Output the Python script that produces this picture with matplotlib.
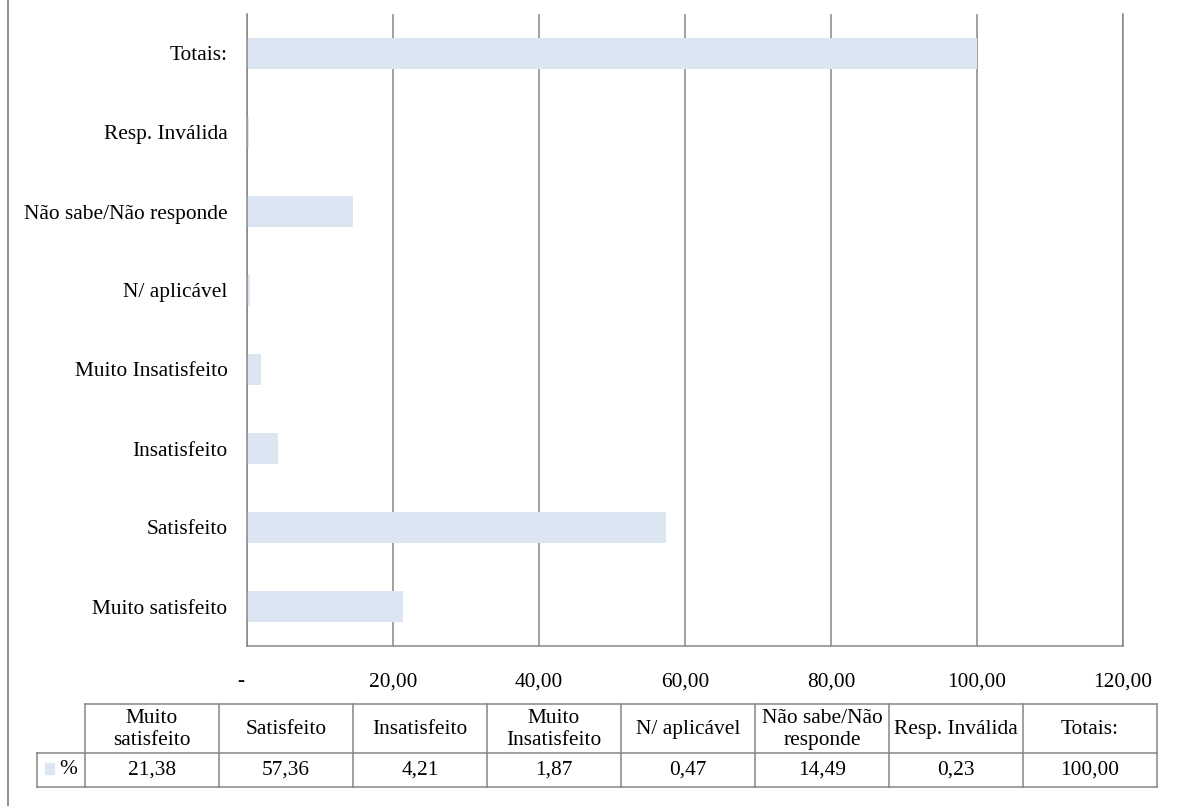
import matplotlib
matplotlib.use("Agg")
import matplotlib.pyplot as plt
from matplotlib.lines import Line2D
from matplotlib.patches import Rectangle
from matplotlib.transforms import ScaledTranslation

# Survey response categories and their percentages
categories = ["Muito satisfeito", "Satisfeito", "Insatisfeito", "Muito Insatisfeito",
              "N/ aplicável", "Não sabe/Não responde", "Resp. Inválida", "Totais:"]
table_headers = ["Muito\nsatisfeito", "Satisfeito", "Insatisfeito", "Muito\nInsatisfeito",
                 "N/ aplicável", "Não sabe/Não\nresponde", "Resp. Inválida", "Totais:"]
values = [21.38, 57.36, 4.21, 1.87, 0.47, 14.49, 0.23, 100.00]
series_name = "%"
x_ticks = [0, 20, 40, 60, 80, 100, 120]
x_ticklabels = ["-", "20,00", "40,00", "60,00", "80,00", "100,00", "120,00"]

W, H = 1179, 807
DPI = 100
BAR_COLOR = "#DCE6F2"
LINE_COLOR = "#868686"
FONT = "Liberation Serif"
FS = 15.4

plt.rcParams["font.family"] = [FONT, "DejaVu Serif"]

fig = plt.figure(figsize=(W / DPI, H / DPI), dpi=DPI)


def fx(px):
    return px / W


def fy(py):
    return 1 - py / H


# Main bar chart area
ax_left, ax_right, ax_top, ax_bottom = 247, 1123, 14, 646
ax = fig.add_axes([fx(ax_left), fy(ax_bottom), fx(ax_right - ax_left), fy(ax_top) - fy(ax_bottom)])

ypos = list(range(len(categories)))
ax.barh(ypos, values, height=0.4, color=BAR_COLOR, zorder=1)
ax.set_xlim(0, 120)
ax.set_ylim(-0.5, len(categories) - 0.5)

ax.set_xticks(x_ticks)
ax.set_xticklabels(x_ticklabels)
ax.set_yticks(ypos)
ax.set_yticklabels(categories)
ax.tick_params(axis="both", length=0, labelsize=FS, colors="black")
ax.tick_params(axis="x", pad=19)
ax.tick_params(axis="y", pad=14)

# The zero label ("-") sits a little left of the axis line
zero_label = ax.xaxis.get_major_ticks()[0].label1
zero_label.set_transform(zero_label.get_transform()
                         + ScaledTranslation(-6 / DPI, 0, fig.dpi_scale_trans))

ax.grid(axis="x", color=LINE_COLOR, linewidth=1.1, zorder=0)
ax.set_axisbelow(True)
ax.spines["top"].set_visible(False)
for side in ["left", "bottom", "right"]:
    ax.spines[side].set_color(LINE_COLOR)
    ax.spines[side].set_linewidth(1.1)
ax.spines["left"].set_zorder(3)

# Outer frame edge on the left
fig.add_artist(Line2D([fx(8), fx(8)], [fy(0), fy(805)], color=LINE_COLOR, linewidth=1.3))

# Data table below the chart
col_left = 85
col_w = 134
row_label_left = 37
top, mid, bottom = 704, 753, 787
n = len(categories)
table_right = col_left + n * col_w

lw = 1.1
# Horizontal lines
fig.add_artist(Line2D([fx(col_left), fx(table_right)], [fy(top), fy(top)], color=LINE_COLOR, linewidth=lw))
fig.add_artist(Line2D([fx(row_label_left), fx(table_right)], [fy(mid), fy(mid)], color=LINE_COLOR, linewidth=lw))
fig.add_artist(Line2D([fx(row_label_left), fx(table_right)], [fy(bottom), fy(bottom)], color=LINE_COLOR, linewidth=lw))
# Vertical lines
fig.add_artist(Line2D([fx(row_label_left), fx(row_label_left)], [fy(mid), fy(bottom)], color=LINE_COLOR, linewidth=lw))
for i in range(n + 1):
    x = col_left + i * col_w
    fig.add_artist(Line2D([fx(x), fx(x)], [fy(top), fy(bottom)], color=LINE_COLOR, linewidth=lw))

# Header and value cells
for i, (hdr, val) in enumerate(zip(table_headers, values)):
    cx = col_left + (i + 0.5) * col_w
    fig.text(fx(cx), fy((top + mid) / 2 + 1), hdr, ha="center", va="center",
             fontsize=FS, linespacing=1.25)
    fig.text(fx(cx), fy((mid + bottom) / 2), f"{val:.2f}".replace(".", ","),
             ha="center", va="center", fontsize=FS)

# Row label with legend key
fig.add_artist(Rectangle((fx(45), fy(774)), fx(9), fy(763) - fy(774), color=BAR_COLOR,
                         transform=fig.transFigure))
fig.text(fx(59), fy((mid + bottom) / 2), series_name, ha="left", va="center", fontsize=FS)

fig.savefig("out.png", dpi=DPI)
